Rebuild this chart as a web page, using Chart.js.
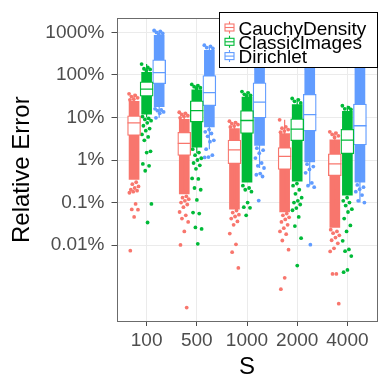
<!DOCTYPE html>
<html><head><meta charset="utf-8">
<script src="https://cdn.jsdelivr.net/npm/chart.js@4.4.0/dist/chart.umd.min.js"></script>
<style>html,body{margin:0;padding:0;background:#fff;}#wrap{width:390px;height:390px;}</style>
</head><body><div id="wrap"><canvas id="c" width="390" height="390"></canvas></div>
<script>
// ---------- data (values in percent) ----------
const categories = ['100', '500', '1000', '2000', '4000'];
const seriesNames = ['CauchyDensity', 'ClassicImages', 'Dirichlet'];
const yTickValues = [0.01, 0.1, 1, 10, 100, 1000];
const yTickLabels = ['0.01%', '0.1%', '1%', '10%', '100%', '1000%'];

const cauchyQ1 = [3.8, 1.28, 0.82, 0.60, 0.43];
const cauchyMedian = [7.5, 2.47, 1.73, 1.22, 0.81];
const cauchyQ3 = [10.9, 4.5, 2.94, 1.96, 1.40];
const cauchyWhiskerLow = [0.8, 0.2, 0.12, 0.1, 0.075];
const cauchyWhiskerHigh = [36, 13.3, 8.2, 8.8, 4.6];
const cauchyCoreLow = [0.35, 0.16, 0.07, 0.06, 0.026];
const cauchyCoreHigh = [24, 9, 5.5, 4.2, 3.0];
const cauchyPoints = [
  [36, 33, 31, 29, 27, 26, 0.3, 0.27, 0.24, 0.22, 0.2, 0.19, 0.18, 0.17, 0.093, 0.069, 0.068, 0.046, 0.0074],
  [13.3, 12.5, 11.8, 11, 10.5, 9.8, 0.14, 0.13, 0.12, 0.11, 0.1, 0.09, 0.078, 0.06, 0.05, 0.042, 0.035, 0.021, 0.0101, 0.00034],
  [8.2, 7.6, 7.2, 6.8, 6.3, 6, 0.065, 0.058, 0.052, 0.047, 0.042, 0.036, 0.030, 0.0186, 0.0104, 0.0068, 0.0029],
  [8.8, 6, 5.6, 5.2, 4.8, 4.5, 0.055, 0.05, 0.045, 0.04, 0.035, 0.03, 0.025, 0.021, 0.018, 0.0128, 0.0078, 0.0017, 0.00092],
  [4.6, 4.3, 4.0, 3.7, 3.4, 0.023, 0.021, 0.019, 0.017, 0.015, 0.013, 0.011, 0.0084, 0.0071, 0.0021, 0.0021, 0.00042]
];

const classicQ1 = [31.6, 7.8, 4.2, 2.85, 1.40];
const classicMedian = [46.6, 14.5, 8.5, 5.3, 2.94];
const classicQ3 = [69, 24.6, 14.5, 9.3, 5.3];
const classicWhiskerLow = [10, 1.45, 0.65, 0.48, 0.19];
const classicWhiskerHigh = [180, 59.8, 40.6, 28, 18.9];
const classicCoreLow = [12, 2.0, 0.3, 0.32, 0.15];
const classicCoreHigh = [115, 45, 30, 20, 14];
const classicPoints = [
  [180, 150, 140, 135, 128, 10.5, 9.5, 9, 8.4, 7.5, 6.4, 5.5, 4.9, 4.0, 3.5, 2.9, 1.6, 1.5, 0.81, 0.73, 0.56, 0.093, 0.034],
  [59.8, 56, 53, 50, 48, 1.8, 1.5, 1.3, 1.1, 1.0, 0.85, 0.75, 0.62, 0.37, 0.36, 0.22, 0.2, 0.115, 0.058, 0.055, 0.026, 0.024, 0.0107],
  [40.6, 38, 35, 33, 32, 0.25, 0.22, 0.2, 0.18, 0.1, 0.078, 0.075, 0.05],
  [28, 26, 24, 22, 0.28, 0.25, 0.2, 0.16, 0.13, 0.11, 0.1, 0.09, 0.074, 0.066, 0.046, 0.028, 0.0145, 0.0033],
  [18.9, 17, 16, 15.5, 0.13, 0.11, 0.1, 0.085, 0.07, 0.06, 0.042, 0.029, 0.021, 0.0126, 0.0079, 0.0072, 0.0055, 0.0026, 0.0023]
];

const dirichletQ1 = [62, 18.9, 9.8, 4.8, 2.25];
const dirichletMedian = [113, 38.5, 23, 11.7, 6.4];
const dirichletQ3 = [226, 96.5, 65.5, 35.2, 20.7];
const dirichletWhiskerLow = [9.8, 1.8, 0.65, 0.25, 0.1];
const dirichletWhiskerHigh = [1110, 501, 500, 300, 200];
const dirichletCoreLow = [18, 6, 2.2, 0.9, 0.3];
const dirichletCoreHigh = [850, 380, 350, 250, 150];
const dirichletPoints = [
  [1110, 1060, 1000, 950, 900, 16, 15, 14.5, 13.5, 12.5, 9.8],
  [501, 470, 440, 420, 5.2, 4.6, 4.2, 3.6, 2.9, 2.7, 1.8, 1.3, 1.17, 1.15],
  [500, 450, 1.9, 1.7, 1.45, 1.11, 0.85, 0.73, 0.65, 0.48, 0.45, 0.41, 0.111],
  [300, 280, 0.8, 0.7, 0.6, 0.5, 0.29, 0.25, 0.23, 0.0102],
  [200, 180, 0.26, 0.23, 0.206, 0.18, 0.15, 0.11, 0.10]
];

// ---------- styling ----------
const colors = ['#F8766D', '#00BA38', '#619CFF'];
const dodge = [-0.25, 0, 0.25];
const FONT = "'Liberation Sans', Arial, sans-serif";
Chart.defaults.font.family = FONT;

const series = [
  {q1: cauchyQ1, med: cauchyMedian, q3: cauchyQ3, wlo: cauchyWhiskerLow, whi: cauchyWhiskerHigh, clo: cauchyCoreLow, chi: cauchyCoreHigh, pts: cauchyPoints},
  {q1: classicQ1, med: classicMedian, q3: classicQ3, wlo: classicWhiskerLow, whi: classicWhiskerHigh, clo: classicCoreLow, chi: classicCoreHigh, pts: classicPoints},
  {q1: dirichletQ1, med: dirichletMedian, q3: dirichletQ3, wlo: dirichletWhiskerLow, whi: dirichletWhiskerHigh, clo: dirichletCoreLow, chi: dirichletCoreHigh, pts: dirichletPoints}
];
const jitter = k => (((k * 0.6180339887) % 1) - 0.5) * 0.2;

const datasets = [];
series.forEach((s, si) => {
  const off = dodge[si], col = colors[si];
  datasets.push({type: 'bar', label: seriesNames[si] + ' core', grouped: false, order: 20,
    data: categories.map((c, i) => ({x: i + off, y: [s.clo[i], s.chi[i]]})),
    backgroundColor: col, borderWidth: 0, barThickness: 10});
  const pts = [];
  s.pts.forEach((arr, i) => arr.forEach((v, k) => pts.push({x: i + off + jitter(k), y: v})));
  datasets.push({type: 'scatter', label: seriesNames[si] + ' points', order: 19, data: pts,
    pointRadius: 1.9, pointBackgroundColor: col, pointBorderWidth: 0});
  const wd = [];
  categories.forEach((c, i) => {
    const x = i + off;
    wd.push({x, y: s.wlo[i]}, {x, y: s.q1[i]}, {x, y: null}, {x, y: s.q3[i]}, {x, y: s.whi[i]}, {x, y: null});
  });
  datasets.push({type: 'line', label: seriesNames[si] + ' whiskers', order: 5, data: wd,
    borderColor: col, borderWidth: 1.2, pointRadius: 0, spanGaps: false, fill: false});
  datasets.push({type: 'bar', label: seriesNames[si], grouped: false, order: 3,
    data: categories.map((c, i) => ({x: i + off, y: [s.q1[i], s.q3[i]]})),
    backgroundColor: '#ffffff', borderColor: col, borderWidth: 1.3, borderSkipped: false, barThickness: 13});
  datasets.push({type: 'scatter', label: seriesNames[si] + ' median', order: 1,
    data: categories.map((c, i) => ({x: i + off, y: s.med[i]})),
    pointStyle: 'line', pointRadius: 6.5, borderColor: col, pointBorderColor: col, pointBorderWidth: 1.3});
});

const panelBorder = {
  id: 'panelBorder',
  afterDatasetsDraw(chart) {
    const {ctx, chartArea: a} = chart;
    ctx.save();
    ctx.strokeStyle = '#6b6b6b';
    ctx.lineWidth = 1;
    ctx.strokeRect(Math.round(a.left) + 0.5, Math.round(a.top) + 0.5, Math.round(a.right - a.left) - 1, Math.round(a.bottom - a.top));
    ctx.restore();
  }
};

const boxLegend = {
  id: 'boxLegend',
  afterDraw(chart) {
    const ctx = chart.ctx;
    ctx.save();
    const lx = 219.5, ly = 12.5, lw = 158, lh = 55;
    ctx.fillStyle = '#fff';
    ctx.fillRect(lx, ly, lw, lh);
    ctx.strokeStyle = '#000';
    ctx.lineWidth = 1;
    ctx.strokeRect(lx, ly, lw, lh);
    seriesNames.forEach((name, i) => {
      const yc = 27.5 + i * 14.3, xc = 229.5, col = colors[i];
      ctx.strokeStyle = col;
      ctx.lineWidth = 1.1;
      ctx.beginPath();
      ctx.moveTo(xc, yc - 6); ctx.lineTo(xc, yc - 3.5);
      ctx.moveTo(xc, yc + 3.5); ctx.lineTo(xc, yc + 6);
      ctx.stroke();
      ctx.fillStyle = '#fff';
      ctx.fillRect(xc - 4.5, yc - 3.5, 9, 7);
      ctx.strokeRect(xc - 4.5, yc - 3.5, 9, 7);
      ctx.beginPath();
      ctx.moveTo(xc - 4.5, yc); ctx.lineTo(xc + 4.5, yc);
      ctx.stroke();
      ctx.fillStyle = '#000';
      ctx.font = '19px ' + FONT;
      ctx.textBaseline = 'alphabetic';
      ctx.textAlign = 'left';
      ctx.fillText(name, 238.5, yc + 7.3);
    });
    ctx.restore();
  }
};

new Chart(document.getElementById('c'), {
  type: 'scatter',
  data: {datasets},
  plugins: [panelBorder, boxLegend],
  options: {
    responsive: false,
    devicePixelRatio: 1,
    animation: false,
    events: [],
    layout: {padding: {top: 12.7, right: 12.5, left: 0, bottom: 0}},
    plugins: {legend: {display: false}, tooltip: {enabled: false}},
    scales: {
      x: {
        type: 'linear', min: -0.6, max: 4.6, offset: false,
        afterBuildTicks: s => { s.ticks = categories.map((c, i) => ({value: i})); },
        afterFit: s => { s.height = 69; },
        ticks: {callback: v => categories[v], color: '#4D4D4D', font: {size: 19}, padding: 3, autoSkip: false, maxRotation: 0},
        grid: {offset: false, color: '#EBEBEB', lineWidth: 1, tickLength: 5, tickColor: '#4D4D4D', drawTicks: true},
        border: {display: false},
        title: {display: true, text: 'S', color: '#000', font: {size: 24}, padding: {top: 0, bottom: 8}}
      },
      y: {
        type: 'logarithmic', min: 1.64e-4, max: 2138, offset: false,
        afterBuildTicks: s => { s.ticks = yTickValues.map(v => ({value: v})); },
        afterFit: s => { s.width = 116.5; },
        ticks: {callback: v => yTickLabels[yTickValues.indexOf(v)], color: '#4D4D4D', font: {size: 19}, padding: 7, autoSkip: false},
        grid: {offset: false, color: '#EBEBEB', lineWidth: 1, tickLength: 5, tickColor: '#4D4D4D', drawTicks: true},
        border: {display: false},
        title: {display: true, text: 'Relative Error', color: '#000', font: {size: 24}, padding: {top: 8, bottom: 0}}
      }
    }
  }
});
</script></body></html>
